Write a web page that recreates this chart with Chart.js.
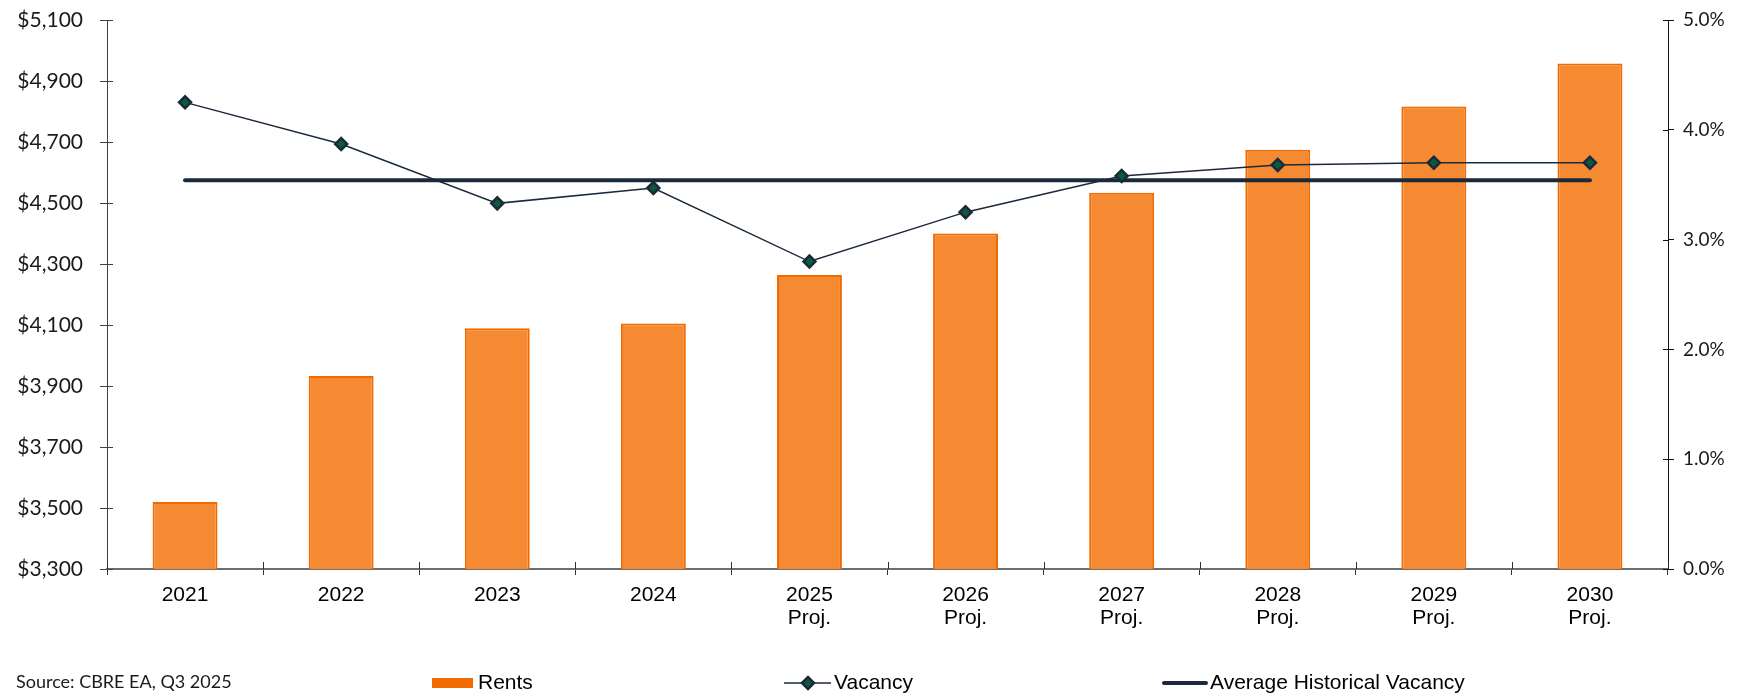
<!DOCTYPE html>
<html><head><meta charset="utf-8">
<script src="https://cdn.jsdelivr.net/npm/chart.js@4/dist/chart.umd.min.js"></script>
<style>html,body{margin:0;padding:0;background:#fff;}#wrap{width:1737px;height:696px;position:relative;}</style>
</head><body><div id="wrap"><canvas id="c"></canvas></div>
<script>
// ---- data ----
const categories = [['2021'], ['2022'], ['2023'], ['2024'], ['2025', 'Proj.'], ['2026', 'Proj.'], ['2027', 'Proj.'], ['2028', 'Proj.'], ['2029', 'Proj.'], ['2030', 'Proj.']];
const rents = [3520, 3933, 4089, 4105, 4264, 4400, 4534, 4675, 4816, 4957];
const vacancy = [4.25, 3.87, 3.33, 3.47, 2.80, 3.25, 3.58, 3.68, 3.70, 3.70];
const avgHistoricalVacancy = [3.54, 3.54, 3.54, 3.54, 3.54, 3.54, 3.54, 3.54, 3.54, 3.54];
const rentTickMin = 3300, rentTickMax = 5100, rentTickStep = 200;
const vacTickMin = 0, vacTickMax = 5, vacTickStep = 1;
const seriesNames = ['Rents', 'Vacancy', 'Average Historical Vacancy'];
const sourceNote = 'Source: CBRE EA, Q3 2025';

// ---- styles ----
const ORANGE_FILL = '#F68A33', ORANGE_EDGE = '#F06A00';
const NAVY = '#1B2A3B', GREEN = '#0B5A3C';
const GEO = 'Lato, "Open Sans", sans-serif';
const ARIAL = '"Liberation Sans", Arial, sans-serif';

const innerTicks = {
  id: 'innerTicks',
  afterDraw(chart) {
    const ctx = chart.ctx, x = chart.scales.x, yl = chart.scales.y, yr = chart.scales.y2;
    ctx.save();
    ctx.lineWidth = 1;
    ctx.strokeStyle = '#404040';
    yl.ticks.forEach((t, i) => {
      const py = Math.round(yl.getPixelForTick(i)) + 0.5;
      ctx.beginPath(); ctx.moveTo(yl.right, py); ctx.lineTo(yl.right + 6, py); ctx.stroke();
    });
    ctx.strokeStyle = '#111';
    yr.ticks.forEach((t, i) => {
      const py = Math.round(yr.getPixelForTick(i)) + 0.5;
      ctx.beginPath(); ctx.moveTo(yr.left - 5, py); ctx.lineTo(yr.left, py); ctx.stroke();
    });
    ctx.strokeStyle = '#303030';
    const n = categories.length;
    for (let i = 0; i <= n; i++) {
      const px = Math.round(x.left + i * x.width / n) + 0.5;
      ctx.beginPath(); ctx.moveTo(px, x.top - 7); ctx.lineTo(px, x.top); ctx.stroke();
    }
    ctx.restore();
  }
};

const customLegend = {
  id: 'customLegend',
  afterDraw(chart) {
    const ctx = chart.ctx;
    const y = 683;
    ctx.save();
    ctx.textBaseline = 'middle';
    ctx.fillStyle = '#1a1a1a';
    ctx.font = '18px ' + GEO;
    ctx.fillText(sourceNote, 16, 682);

    ctx.font = '21px ' + ARIAL;
    // Rents
    ctx.fillStyle = ORANGE_EDGE;
    ctx.fillRect(432, y - 5, 41, 10);
    ctx.fillStyle = '#000';
    ctx.fillText(seriesNames[0], 478, y);
    // Vacancy
    ctx.strokeStyle = NAVY; ctx.lineWidth = 1.5;
    ctx.beginPath(); ctx.moveTo(784, y); ctx.lineTo(831, y); ctx.stroke();
    ctx.beginPath();
    ctx.moveTo(808 - 6, y); ctx.lineTo(808, y - 6); ctx.lineTo(808 + 6, y); ctx.lineTo(808, y + 6); ctx.closePath();
    ctx.fillStyle = GREEN; ctx.fill(); ctx.lineWidth = 2.5; ctx.strokeStyle = NAVY; ctx.stroke();
    ctx.fillStyle = '#000';
    ctx.fillText(seriesNames[1], 834, y);
    // Avg
    ctx.strokeStyle = NAVY; ctx.lineWidth = 4; ctx.lineCap = 'round';
    ctx.beginPath(); ctx.moveTo(1164, y); ctx.lineTo(1206, y); ctx.stroke();
    ctx.fillText(seriesNames[2], 1210, y);
    ctx.restore();
  }
};

function noPadY(s, w) { s.width = w; s.paddingTop = 0; s.paddingBottom = 0; }

function draw() {
  new Chart(document.getElementById('c'), {
    data: {
      labels: categories,
      datasets: [
        {
          type: 'line', label: seriesNames[1], data: vacancy, yAxisID: 'y2', order: 1,
          borderColor: NAVY, borderWidth: 1.5, tension: 0,
          pointStyle: 'rectRot', pointRadius: 6, pointBorderWidth: 2.5,
          pointBackgroundColor: GREEN, pointBorderColor: NAVY
        },
        {
          type: 'line', label: seriesNames[2], data: avgHistoricalVacancy, yAxisID: 'y2', order: 2,
          borderColor: NAVY, borderWidth: 4, pointRadius: 0, borderCapStyle: 'round'
        },
        {
          type: 'bar', label: seriesNames[0], data: rents, yAxisID: 'y', order: 3,
          backgroundColor: ORANGE_FILL, borderColor: ORANGE_EDGE, borderWidth: 2,
          categoryPercentage: 1, barPercentage: 0.416
        }
      ]
    },
    options: {
      responsive: true, maintainAspectRatio: false, animation: false,
      layout: { padding: { top: 20, left: 0, right: 0, bottom: 0 } },
      plugins: { legend: { display: false }, tooltip: { enabled: false } },
      scales: {
        x: {
          type: 'category', offset: true,
          grid: { display: true, drawOnChartArea: false, drawTicks: true, tickLength: 6, color: '#303030', offset: true },
          border: { display: true, color: '#6e6e6e', width: 2 },
          ticks: { color: '#000', padding: 8, font: { family: ARIAL, size: 21, lineHeight: 1.13 }, maxRotation: 0, autoSkip: false },
          afterFit(s) { s.height = 127; s.paddingLeft = 0; s.paddingRight = 0; }
        },
        y: {
          position: 'left', min: rentTickMin, max: rentTickMax,
          grid: { drawOnChartArea: false, drawTicks: true, tickLength: 7, color: '#404040' },
          border: { display: true, color: '#404040', width: 1 },
          ticks: {
            stepSize: rentTickStep, color: '#1a1a1a', padding: 17,
            font: { family: GEO, size: 21 },
            callback: v => '$' + v.toLocaleString('en-US')
          },
          afterFit(s) { noPadY(s, 107); }
        },
        y2: {
          position: 'right', min: vacTickMin, max: vacTickMax,
          grid: { drawOnChartArea: false, drawTicks: true, tickLength: 6, color: '#111' },
          border: { display: true, color: '#111', width: 1 },
          ticks: {
            stepSize: vacTickStep, color: '#1a1a1a', padding: 9,
            font: { family: GEO, size: 19 },
            callback: v => v.toFixed(1) + '%'
          },
          afterFit(s) { noPadY(s, 69); }
        }
      }
    },
    plugins: [innerTicks, customLegend]
  });
}

Promise.all([
  document.fonts.load('20px Lato'),
  document.fonts.load('21px "Liberation Sans"')
]).then(draw, draw);
</script>
</body></html>
